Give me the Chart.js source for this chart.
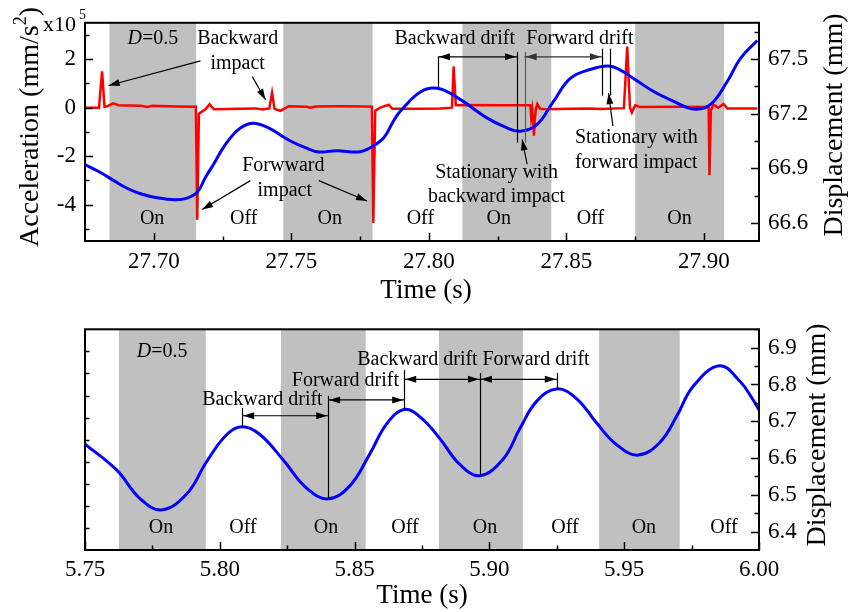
<!DOCTYPE html>
<html><head><meta charset="utf-8">
<script src="https://cdn.jsdelivr.net/npm/chart.js@4.4.0/dist/chart.umd.min.js"></script>
<style>
html,body{margin:0;padding:0;background:#fff;}
#wrap{position:relative;width:848px;height:612px;overflow:hidden;}
canvas{position:absolute;left:0;}
#c1{top:0;}
#c2{top:306px;}
</style></head><body>
<div id="wrap"><canvas id="c1" width="848" height="306"></canvas><canvas id="c2" width="848" height="306"></canvas></div>
<script>
const SERIF = '"Liberation Serif","Times New Roman",serif';

// ---------- Top panel: acceleration (x10^5 mm/s^2) ----------
const topAccTime = [
 27.6752,27.6801,27.6812,27.6821,27.6832,27.6852,27.6872,27.6952,27.6976,27.6995,
 27.7079,27.7153,27.7158,27.7164,27.7188,27.7203,27.7218,27.7315,27.7370,27.7395,
 27.7420,27.7430,27.7439,27.7460,27.7491,27.7557,27.7569,27.7588,27.7678,27.7775,
 27.7793,27.7798,27.7805,27.7823,27.7854,27.7867,27.7969,27.8042,27.8084,27.8090,
 27.8098,27.8115,27.8260,27.8369,27.8372,27.8376,27.8379,27.8382,27.8385,27.8389,
 27.8394,27.8405,27.8423,27.8514,27.8586,27.8623,27.8709,27.8721,27.8731,27.8738,
 27.8750,27.8768,27.8913,27.9011,27.9017,27.9020,27.9025,27.9035,27.9052,27.9071,
 27.9085,27.9194];
const topAccVal = [
 0.00,0.00,1.50,0.04,0.06,0.18,0.10,0.08,0.03,0.08,
 0.05,0.04,-4.62,-0.25,-0.07,0.14,-0.07,-0.05,-0.03,-0.08,
 -0.03,0.61,-0.05,-0.13,0.06,0.04,0.00,0.05,0.06,0.05,
 0.04,-4.76,-0.13,0.00,0.12,-0.05,-0.05,-0.03,0.00,1.70,
 0.10,0.11,0.10,0.10,-0.40,-0.10,-0.60,-1.16,-0.50,-0.05,
 0.15,-0.05,-0.07,-0.05,-0.03,-0.06,-0.02,2.52,0.00,-0.20,
 0.10,0.03,0.04,0.03,0.00,-2.79,-0.10,0.12,0.00,0.15,
 -0.03,-0.03];

// ---------- Top panel: displacement (mm) ----------
const topDispTime = [
 27.6752,27.6806,27.6855,27.6903,27.6952,27.7012,27.7079,27.7121,27.7158,27.7188,
 27.7218,27.7249,27.7279,27.7315,27.7360,27.7412,27.7497,27.7551,27.7600,27.7666,
 27.7745,27.7787,27.7836,27.7871,27.7896,27.7969,27.8030,27.8102,27.8211,27.8278,
 27.8332,27.8393,27.8453,27.8514,27.8586,27.8652,27.8696,27.8744,27.8817,27.8890,
 27.8962,27.9023,27.9084,27.9132,27.9194];
const topDispVal = [
 66.919,66.877,66.832,66.790,66.760,66.738,66.727,66.736,66.768,66.850,
 66.923,67.005,67.068,67.122,67.148,67.126,67.050,67.013,66.990,66.997,
 66.990,67.013,67.068,67.159,67.213,67.320,67.340,67.290,67.177,67.126,
 67.104,67.140,67.268,67.394,67.443,67.462,67.440,67.394,67.322,67.268,
 67.226,67.250,67.376,67.503,67.603];

// ---------- Bottom panel: displacement (mm) ----------
const botTime = [
 5.7500,5.7618,5.7704,5.7784,5.7877,5.7951,5.8026,5.8083,5.8149,5.8236,
 5.8322,5.8402,5.8483,5.8557,5.8619,5.8684,5.8749,5.8817,5.8891,5.8965,
 5.9052,5.9113,5.9175,5.9250,5.9324,5.9398,5.9472,5.9552,5.9633,5.9695,
 5.9756,5.9853,5.9930,5.9979,6.0000];
const botDisp = [
 6.638,6.567,6.490,6.459,6.502,6.590,6.664,6.685,6.664,6.594,
 6.518,6.489,6.525,6.612,6.693,6.732,6.708,6.652,6.582,6.552,
 6.598,6.680,6.754,6.788,6.761,6.695,6.636,6.608,6.643,6.714,
 6.795,6.851,6.808,6.757,6.731];

// ---------- Magnet On intervals (s) ----------
const topOnStart = [27.6839,27.7471,27.8122,27.8750];
const topOnEnd   = [27.7154,27.7795,27.8445,27.9073];
const botOnStart = [5.7626,5.8227,5.8813,5.9407];
const botOnEnd   = [5.7948,5.8541,5.9124,5.9706];

// ---------- Tick values and labels ----------
const topXMajor = [27.70,27.75,27.80,27.85,27.90];
const topXLabels = ['27.70','27.75','27.80','27.85','27.90'];
const topXMinor = [27.725,27.775,27.825,27.875];
const topAMajor = [-4,-2,0,2];
const topALabels = ['-4','-2','0','2'];
const topAMinor = [-5,-3,-1,1,3];
const topDMajor = [66.6,66.9,67.2,67.5];
const topDLabels = ['66.6','66.9','67.2','67.5'];
const topDMinor = [66.75,67.05,67.35,67.65];
const botXMajor = [5.75,5.80,5.85,5.90,5.95,6.00];
const botXLabels = ['5.75','5.80','5.85','5.90','5.95','6.00'];
const botXMinor = [5.775,5.825,5.875,5.925,5.975];
const botDMajor = [6.4,6.5,6.6,6.7,6.8,6.9];
const botDLabels = ['6.4','6.5','6.6','6.7','6.8','6.9'];
const botDMinor = [6.45,6.55,6.65,6.75,6.85,6.95];
const botLMinor = [1,2,3,4,5,6,7,8,9];

// ---------- Annotations (data coordinates: time, displacement) ----------
const onOffWords = ['On','Off'];
const topOnOffTimes = [27.6994,27.7327,27.7640,27.7969,27.8254,27.8587,27.8911];
const botOnOffTimes = [5.7782,5.8086,5.8394,5.8687,5.8984,5.9280,5.9573,5.9870];
const topNotes = [
  {t:27.7305,v:67.610,s:'Backward'},{t:27.7305,v:67.474,s:'impact'},
  {t:27.7471,v:66.914,s:'Forwward'},{t:27.7476,v:66.778,s:'impact'},
  {t:27.8094,v:67.610,s:'Backward drift'},{t:27.8549,v:67.610,s:'Forward drift'},
  {t:27.8246,v:66.878,s:'Stationary with'},{t:27.8246,v:66.742,s:'backward impact'},
  {t:27.8754,v:67.068,s:'Stationary with'},{t:27.8754,v:66.932,s:'forward impact'}
];
const topPointers = [
  [27.7170,67.491,27.6836,67.355],[27.7358,67.404,27.7406,67.277],
  [27.7351,66.832,27.7176,66.673],[27.7600,66.832,27.7775,66.720],
  [27.8357,66.923,27.8339,67.059],[27.8669,67.132,27.8653,67.313]
];
const topDrifts = [[27.8033,27.8320,67.513,'#000'],[27.8348,27.8629,67.513,'#333']];
const topMarks = [
  [27.8033,67.513,67.340,'#000'],[27.8320,67.540,67.041,'#000'],[27.8348,67.540,67.041,'#555'],
  [27.8629,67.558,67.299,'#000'],[27.8659,67.558,67.299,'#000']
];
const botNotes = [
  {t:5.8158,v:6.758,s:'Backward drift'},{t:5.8466,v:6.809,s:'Forward drift'},
  {t:5.8733,v:6.867,s:'Backward drift'},{t:5.9173,v:6.867,s:'Forward drift'}
];
const botDrifts = [[5.8083,5.8402,6.715,'#000'],[5.8402,5.8684,6.758,'#000'],
                   [5.8684,5.8965,6.814,'#000'],[5.8965,5.9250,6.814,'#000']];
const botMarks = [[5.8083,6.736,6.685,'#000'],[5.8402,6.769,6.489,'#000'],[5.8684,6.839,6.732,'#000'],
                  [5.8965,6.831,6.552,'#000'],[5.9250,6.831,6.788,'#000']];

// ---------- helpers ----------
function pts(xs, ys){ return xs.map((x,i)=>({x:x,y:ys[i]})); }
function axis(pos, min, max, major, labels, minor, size, pad, show){
  return {
    type:'linear', position:pos, min:min, max:max,
    afterBuildTicks: s => {
      s.ticks = major.map(v=>({value:v,big:true})).concat(minor.map(v=>({value:v,big:false})))
        .sort((a,b)=>a.value-b.value);
    },
    afterFit: s => { if (pos==='bottom') s.height = size; else s.width = size; },
    ticks:{display:show, autoSkip:false, maxRotation:0, minRotation:0, padding:pad, color:'#000',
      font:{family:SERIF,size:23},
      callback: v => { const i = major.indexOf(v); return i>=0 ? labels[i] : ''; }},
    grid:{display:false, drawTicks:false},
    border:{display:false}
  };
}
function head(ctx,x1,y1,x2,y2,len,half){
  const a = Math.atan2(y2-y1,x2-x1), c=Math.cos(a), s=Math.sin(a);
  ctx.beginPath();
  ctx.moveTo(x2,y2);
  ctx.lineTo(x2-len*c+half*s, y2-len*s-half*c);
  ctx.lineTo(x2-len*c-half*s, y2-len*s+half*c);
  ctx.closePath(); ctx.fill();
}
function dText(ctx,x,y){
  const f1='italic 20px '+SERIF, f2='20px '+SERIF;
  ctx.font=f1; const w1=ctx.measureText('D').width;
  ctx.font=f2; const w2=ctx.measureText('=0.5').width;
  const x0=x-(w1+w2)/2;
  ctx.textAlign='left'; ctx.textBaseline='middle';
  ctx.font=f1; ctx.fillText('D',x0,y);
  ctx.font=f2; ctx.fillText('=0.5',x0+w1,y);
}
function vTitle(ctx,x,y,parts){
  ctx.save();
  ctx.translate(x,y); ctx.rotate(-Math.PI/2);
  ctx.textAlign='left'; ctx.textBaseline='alphabetic'; ctx.fillStyle='#000';
  let tot=0;
  parts.forEach(p=>{ ctx.font=p.size+'px '+SERIF; p.w=ctx.measureText(p.s).width; tot+=p.w; });
  let cx=-tot/2;
  parts.forEach(p=>{ ctx.font=p.size+'px '+SERIF; ctx.fillText(p.s,cx,-(p.rise||0)); cx+=p.w; });
  ctx.restore();
}
function makeDecor(cfg){
  return {
    id:'decor_'+cfg.name,
    beforeDatasetsDraw(chart){
      const {ctx, chartArea:a, scales} = chart, x = scales.x;
      ctx.save(); ctx.fillStyle='#c0c0c0';
      cfg.onStart.forEach((s,i)=>{
        const x0=x.getPixelForValue(s), x1=x.getPixelForValue(cfg.onEnd[i]);
        ctx.fillRect(x0,a.top,x1-x0,a.bottom-a.top);
      });
      ctx.restore();
    },
    afterDatasetsDraw(chart){
      const {ctx, scales} = chart, X=scales.x, Y=scales.yD;
      const P=(t,v)=>[X.getPixelForValue(t),Y.getPixelForValue(v)];
      ctx.save();
      ctx.fillStyle='#000'; ctx.textAlign='center'; ctx.textBaseline='middle';
      ctx.font='20px '+SERIF;
      cfg.onOffTimes.forEach((t,i)=>{ const p=P(t,cfg.onOffV); ctx.fillText(onOffWords[i%2],p[0],p[1]); });
      cfg.notes.forEach(n=>{ const p=P(n.t,n.v); ctx.fillText(n.s,p[0],p[1]); });
      const dp=P(cfg.dPos[0],cfg.dPos[1]); dText(ctx,dp[0],dp[1]);
      ctx.lineWidth=1.2;
      cfg.marks.forEach(m=>{
        const p1=P(m[0],m[1]), p2=P(m[0],m[2]);
        ctx.strokeStyle=m[3];
        ctx.beginPath(); ctx.moveTo(Math.round(p1[0])+0.5,p1[1]); ctx.lineTo(Math.round(p2[0])+0.5,p2[1]); ctx.stroke();
      });
      cfg.drifts.forEach(d=>{
        const p1=P(d[0],d[2]), p2=P(d[1],d[2]);
        ctx.strokeStyle=d[3]; ctx.fillStyle=d[3];
        ctx.beginPath(); ctx.moveTo(p1[0],p1[1]); ctx.lineTo(p2[0],p2[1]); ctx.stroke();
        head(ctx,p2[0],p2[1],p1[0]+1,p1[1],11,3.5);
        head(ctx,p1[0],p1[1],p2[0]-1,p2[1],11,3.5);
      });
      ctx.strokeStyle='#000'; ctx.fillStyle='#000';
      cfg.pointers.forEach(a=>{
        const p1=P(a[0],a[1]), p2=P(a[2],a[3]);
        ctx.beginPath(); ctx.moveTo(p1[0],p1[1]); ctx.lineTo(p2[0],p2[1]); ctx.stroke();
        head(ctx,p1[0],p1[1],p2[0],p2[1],11,3.5);
      });
      ctx.restore();
    },
    afterDraw(chart){
      const {ctx, chartArea:a} = chart;
      ctx.save();
      ctx.strokeStyle='#000'; ctx.lineWidth=2;
      ctx.strokeRect(a.left,a.top,a.right-a.left,a.bottom-a.top);
      ctx.lineWidth=1.5;
      cfg.tickAxes.forEach(id=>{
        const sc=chart.scales[id];
        sc.ticks.forEach(tk=>{
          const len = tk.big ? 8 : 4.5;
          ctx.beginPath();
          const p=Math.round(sc.getPixelForValue(tk.value))+0.5;
          if (sc.position==='bottom'){ ctx.moveTo(p,a.bottom); ctx.lineTo(p,a.bottom-len); }
          else if (sc.position==='left'){ ctx.moveTo(a.left,p); ctx.lineTo(a.left+len,p); }
          else { ctx.moveTo(a.right,p); ctx.lineTo(a.right-len,p); }
          ctx.stroke();
        });
      });
      ctx.fillStyle='#000';
      cfg.titles(ctx);
      ctx.restore();
    }
  };
}

const common = {
  responsive:false, animation:false, devicePixelRatio:1,
  plugins:{legend:{display:false}, tooltip:{enabled:false}},
  events:[]
};

// ---------- Top chart ----------
new Chart(document.getElementById('c1'), {
  type:'line',
  data:{datasets:[
    {data:pts(topDispTime,topDispVal), yAxisID:'yD', borderColor:'#0000ff', borderWidth:3,
     pointRadius:0, tension:0.4, order:0},
    {data:pts(topAccTime,topAccVal), yAxisID:'yA', borderColor:'#ff0000', borderWidth:2.5,
     pointRadius:0, tension:0, order:1}
  ]},
  options:Object.assign({}, common, {
    layout:{padding:{top:21,left:0,right:0,bottom:0}},
    scales:{
      x: axis('bottom',27.675,27.92,topXMajor,topXLabels,topXMinor,65,7,true),
      yA: axis('left',-5.5,3.5,topAMajor,topALabels,topAMinor,85,9,true),
      yD: axis('right',66.5,67.7,topDMajor,topDLabels,topDMinor,89,9,true)
    }
  }),
  plugins:[makeDecor({
    name:'top', onStart:topOnStart, onEnd:topOnEnd,
    onOffTimes:topOnOffTimes, onOffV:66.62, notes:topNotes, dPos:[27.6997,67.610],
    marks:topMarks, drifts:topDrifts, pointers:topPointers,
    tickAxes:['x','yA','yD'],
    titles(ctx){
      vTitle(ctx,38,127,[{s:'Acceleration (mm/s',size:28},{s:'2',size:18,rise:12},{s:')',size:28}]);
      ctx.textAlign='left'; ctx.textBaseline='alphabetic';
      ctx.font='22px '+SERIF; ctx.fillText('x10',43,31);
      ctx.font='14px '+SERIF; ctx.fillText('5',79,19);
      vTitle(ctx,842,125,[{s:'Displacement (mm)',size:28}]);
      ctx.textAlign='center'; ctx.font='27px '+SERIF; ctx.fillText('Time (s)',426,298);
    }
  })]
});

// ---------- Bottom chart ----------
new Chart(document.getElementById('c2'), {
  type:'line',
  data:{datasets:[
    {data:pts(botTime,botDisp), yAxisID:'yD', borderColor:'#0000ff', borderWidth:3,
     pointRadius:0, tension:0.4}
  ]},
  options:Object.assign({}, common, {
    layout:{padding:{top:23.3,left:0,right:0,bottom:0}},
    scales:{
      x: axis('bottom',5.75,6.00,botXMajor,botXLabels,botXMinor,62,6,true),
      yL: axis('left',0,10,[],[],botLMinor,85,9,false),
      yD: axis('right',6.35,6.95,botDMajor,botDLabels,botDMinor,89,9,true)
    }
  }),
  plugins:[makeDecor({
    name:'bot', onStart:botOnStart, onEnd:botOnEnd,
    onOffTimes:botOnOffTimes, onOffV:6.41, notes:botNotes, dPos:[5.7786,6.888],
    marks:botMarks, drifts:botDrifts, pointers:[],
    tickAxes:['x','yL','yD'],
    titles(ctx){
      vTitle(ctx,825,129,[{s:'Displacement (mm)',size:28}]);
      ctx.textAlign='center'; ctx.textBaseline='alphabetic';
      ctx.font='27px '+SERIF; ctx.fillText('Time (s)',422,297);
    }
  })]
});
</script>
</body></html>
